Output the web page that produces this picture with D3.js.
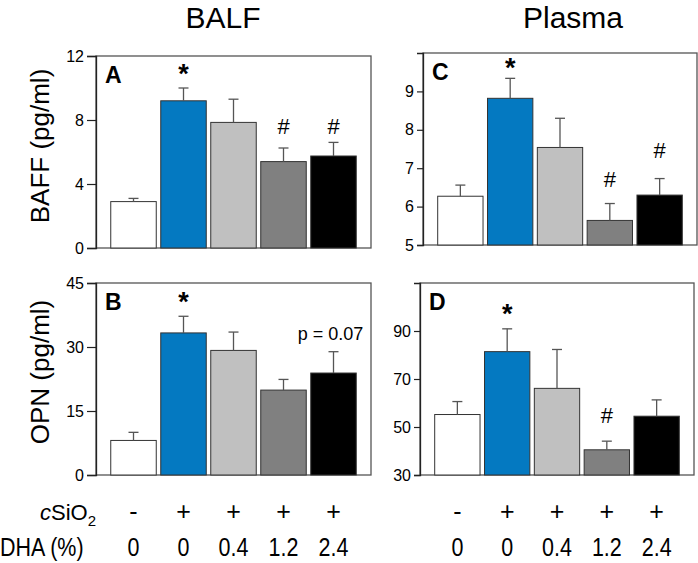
<!DOCTYPE html>
<html>
<head>
<meta charset="utf-8">
<style>
  body { margin: 0; background: #fff; }
  text { font-family: "Liberation Sans", Arial, sans-serif; fill: #000; }
</style>
<script src="https://cdn.jsdelivr.net/npm/d3@7"></script>
</head>
<body>
<svg id="fig" width="698" height="563"></svg>
<script>
// groups: control, cSiO2, cSiO2 + DHA 0.4 / 1.2 / 2.4 %
var groups = [0, 1, 2, 3, 4];
var barColors = ["#ffffff", "#0479c1", "#c0c0c0", "#808080", "#000000"];
var silicaRow = ["-", "+", "+", "+", "+"];
var dhaRow = ["0", "0", "0.4", "1.2", "2.4"];

// BALF BAFF (A)
var baffBalf = [2.9, 9.2, 7.85, 5.4, 5.75];
var baffBalfSem = [0.2, 0.8, 1.45, 0.85, 0.85];
// Plasma BAFF (C)
var baffPlasma = [6.27, 8.82, 7.54, 5.64, 6.3];
var baffPlasmaSem = [0.29, 0.52, 0.76, 0.44, 0.43];
// BALF OPN (B)
var opnBalf = [8.1, 33.3, 29.2, 19.9, 23.9];
var opnBalfSem = [1.9, 3.9, 4.3, 2.5, 5.0];
// Plasma OPN (D)
var opnPlasma = [55.2, 81.4, 66.1, 40.5, 54.5];
var opnPlasmaSem = [5.4, 9.5, 16.2, 3.6, 6.8];

var svg = d3.select("#fig");

var panels = [
  { id: "A", vals: baffBalf, sem: baffBalfSem, x0: 96, x1: 371, y0: 56, y1: 248,
    domain: [0, 12], ticks: [0, 4, 8, 12], tickLen: 9,
    marks: [{ i: 1, t: "*", v: 10.3 }, { i: 3, t: "#", v: 7.1 }, { i: 4, t: "#", v: 7.1 }] },
  { id: "C", vals: baffPlasma, sem: baffPlasmaSem, x0: 423, x1: 697, y0: 53, y1: 245,
    domain: [5, 10], ticks: [5, 6, 7, 8, 9], tickLen: 6,
    marks: [{ i: 1, t: "*", v: 9.38 }, { i: 3, t: "#", v: 6.51 }, { i: 4, t: "#", v: 7.26 }] },
  { id: "B", vals: opnBalf, sem: opnBalfSem, x0: 96, x1: 371, y0: 283, y1: 475,
    domain: [0, 45], ticks: [0, 15, 30, 45], tickLen: 9,
    marks: [{ i: 1, t: "*", v: 38.4 }], note: { i: 4, t: "p = 0.07", v: 31.6 } },
  { id: "D", vals: opnPlasma, sem: opnPlasmaSem, x0: 420, x1: 694, y0: 283, y1: 475,
    domain: [30, 110], ticks: [30, 50, 70, 90], tickLen: 6,
    marks: [{ i: 1, t: "*", v: 93.3 }, { i: 3, t: "#", v: 51.5 }] }
];

panels.forEach(function(p) {
  var x = d3.scaleBand().domain(groups).range([p.x0, p.x1])
      .paddingInner(0.09).paddingOuter(0.295);
  var y = d3.scaleLinear().domain(p.domain).range([p.y1, p.y0]);
  p.x = x;

  var g = svg.append("g");

  // frame
  g.append("rect")
    .attr("x", p.x0).attr("y", p.y0)
    .attr("width", p.x1 - p.x0).attr("height", p.y1 - p.y0)
    .attr("fill", "none").attr("stroke", "#555").attr("stroke-width", 1.3);

  // bars
  g.selectAll(".bar")
    .data(groups)
    .join("rect")
      .attr("x", function(d) { return x(d); })
      .attr("y", function(d) { return y(p.vals[d]); })
      .attr("width", x.bandwidth())
      .attr("height", function(d) { return p.y1 - y(p.vals[d]); })
      .attr("fill", function(d) { return barColors[d]; })
      .attr("stroke", "#333").attr("stroke-width", 1);

  // error bars (upper only)
  var eb = g.selectAll(".err").data(groups).join("g");
  eb.append("line")
    .attr("x1", function(d) { return x(d) + x.bandwidth() / 2; })
    .attr("x2", function(d) { return x(d) + x.bandwidth() / 2; })
    .attr("y1", function(d) { return y(p.vals[d]); })
    .attr("y2", function(d) { return y(p.vals[d] + p.sem[d]); })
    .attr("stroke", "#555").attr("stroke-width", 1.3);
  eb.append("line")
    .attr("x1", function(d) { return x(d) + x.bandwidth() / 2 - 5; })
    .attr("x2", function(d) { return x(d) + x.bandwidth() / 2 + 5; })
    .attr("y1", function(d) { return y(p.vals[d] + p.sem[d]); })
    .attr("y2", function(d) { return y(p.vals[d] + p.sem[d]); })
    .attr("stroke", "#555").attr("stroke-width", 1.3);

  // y axis
  var ax = g.append("g")
    .attr("transform", "translate(" + p.x0 + ",0)")
    .call(d3.axisLeft(y).tickValues(p.ticks).tickFormat(d3.format("d"))
      .tickSize(p.tickLen).tickPadding(3));
  ax.select(".domain").attr("stroke", "#222").attr("stroke-width", 1.3);
  ax.selectAll(".tick line").attr("stroke", "#222").attr("stroke-width", 1.2);
  ax.selectAll(".tick text")
    .style("font-family", "'Liberation Sans', Arial, sans-serif")
    .attr("font-size", 16).attr("fill", "#000");

  // panel letter
  g.append("text")
    .attr("x", p.x0 + 9).attr("y", p.y0 + 27)
    .attr("font-size", 23).attr("font-weight", "bold")
    .text(p.id);

  // significance marks
  g.selectAll(".mark")
    .data(p.marks)
    .join("text")
      .attr("x", function(m) { return x(m.i) + x.bandwidth() / 2; })
      .attr("y", function(m) { return y(m.v); })
      .attr("text-anchor", "middle")
      .attr("font-size", function(m) { return m.t === "*" ? 27 : 22; })
      .attr("font-weight", function(m) { return m.t === "*" ? "bold" : "normal"; })
      .text(function(m) { return m.t; });

  if (p.note) {
    g.append("text")
      .attr("x", x(p.note.i) + x.bandwidth() / 2 - 3)
      .attr("y", y(p.note.v))
      .attr("text-anchor", "middle")
      .attr("font-size", 18)
      .text(p.note.t);
  }
});

// column titles
svg.append("text").attr("x", 223).attr("y", 28).attr("text-anchor", "middle")
  .attr("font-size", 30).text("BALF");
svg.append("text").attr("x", 573).attr("y", 28).attr("text-anchor", "middle")
  .attr("font-size", 30).text("Plasma");

// y axis titles
svg.append("text")
  .attr("transform", "translate(49,146) rotate(-90)")
  .attr("text-anchor", "middle").attr("font-size", 26)
  .text("BAFF (pg/ml)");
svg.append("text")
  .attr("transform", "translate(49,372) rotate(-90)")
  .attr("text-anchor", "middle").attr("font-size", 26)
  .text("OPN (pg/ml)");

// treatment rows under the bottom panels
var rowX = [panels[2].x, panels[3].x];
var cs = svg.append("text").attr("x", 96).attr("y", 520).attr("text-anchor", "end")
  .attr("font-size", 22);
cs.append("tspan").attr("font-style", "italic").text("c");
cs.append("tspan").text("SiO");
cs.append("tspan").attr("font-size", 15).attr("dy", 6).text("2");

svg.append("g").attr("transform", "translate(0,556) scale(0.86,1)")
  .append("text").attr("x", 0).attr("y", 0).attr("font-size", 25)
  .text("DHA (%)");

rowX.forEach(function(x) {
  svg.append("g").selectAll("text")
    .data(groups)
    .join("text")
      .attr("x", function(d) { return x(d) + x.bandwidth() / 2; })
      .attr("y", 520)
      .attr("text-anchor", "middle")
      .attr("font-size", 25)
      .text(function(d) { return silicaRow[d]; });
  svg.append("g").selectAll("text")
    .data(groups)
    .join("text")
      .attr("transform", function(d) {
        return "translate(" + (x(d) + x.bandwidth() / 2) + ",556) scale(0.86,1)";
      })
      .attr("text-anchor", "middle")
      .attr("font-size", 25)
      .text(function(d) { return dhaRow[d]; });
});
</script>
</body>
</html>
